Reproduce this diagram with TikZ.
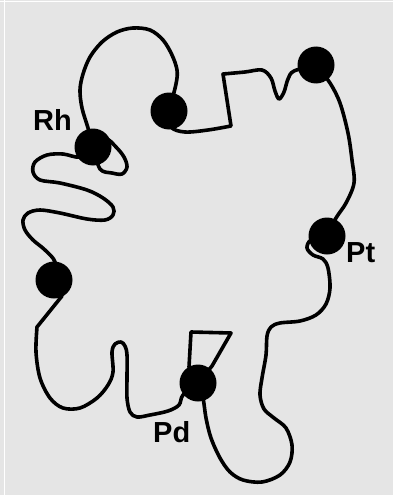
\documentclass[tikz,border=0pt]{standalone}
\usepackage{fontspec}
\setmainfont{Liberation Sans}
\usetikzlibrary{backgrounds}

\begin{document}
\begin{tikzpicture}[
  x=1pt, y=-1pt,
  dot/.style={circle, fill=black, inner sep=0pt, minimum size=37pt},
  wire/.style={draw=black, line width=3.6pt, line join=round, line cap=round},
  lbl/.style={font=\fontsize{29}{30}\selectfont\bfseries, inner sep=0pt},
  paper/.style={fill=black!10},
]
\def\wt{0.55}      % smoothness of the chain

\useasboundingbox (0,0) rectangle (393,495);

\node[dot] (rh)  at (93,147) {};
\node[dot] (top) at (169,111) {};
\node[dot] (tr)  at (316,65) {};
\node[dot] (pt)  at (327,236) {};
\node[dot] (pd)  at (198,383) {};
\node[dot] (lft) at (54,280) {};

\node[lbl, anchor=base west] (rhlab) at (33,130) {Rh};
\node[lbl, anchor=base west] (ptlab) at (346,262) {Pt};
\node[lbl, anchor=base west] (pdlab) at (153,442) {Pd};

\begin{scope}[on background layer]
  \fill[paper] (0,0) rectangle (393,495);
  \draw[white, line width=1.4pt] (0,1.8) -- (393,1.8);
  \draw[white, line width=1.6pt] (4.6,0) -- (4.6,495);

  % Rh -> top
  \draw[wire] plot[smooth, tension=\wt] coordinates {(rh.center) (88,128) (82,108) (80,90) (83,74) (90,57) (102,42) (117,32) (133,28) (150,30) (163,40) (172,55) (177,70) (176,84) (top.center)};
  % top -> tr
  \draw[wire] plot[smooth, tension=\wt] coordinates {(top.center) (171,127) (185,132) (208,130) (231,126)}
    -- plot[smooth, tension=\wt] coordinates {(223,74) (245,72) (262,70) (271,78) (275,91) (279,99) (284,92) (288,79) (294,71) (tr.center)};
  % tr -> Pt
  \draw[wire] plot[smooth, tension=\wt] coordinates {(tr.center) (330,83) (340,103) (348,133) (352,160) (354,183) (346,203) (336,218) (pt.center)};
  % Pt -> Pd
  \draw[wire] plot[smooth, tension=\wt] coordinates {(pt.center) (311,240) (307,248) (313,255) (323,259) (328,268) (330,288) (326,304) (316,315) (300,321) (280,323) (271,327) (267,336) (266,355) (262,378) (260,395) (264,409) (274,418) (286,428) (292,445) (290,462) (280,475) (262,482) (243,480) (230,472) (220,458) (211,438) (206,418) (203,398) (pd.center)};
  % Pd loop
  \draw[wire] (pd.center) -- (212,366) -- (231,333) -- (191,332) -- (189,367) -- (pd.center);
  % Pd -> left
  \draw[wire] plot[smooth, tension=\wt] coordinates {(pd.center) (183,395) (179,405) (168,411) (150,415) (137,417) (130,412) (127,398) (127,378) (127,355) (125,346) (121,342) (115,344) (112,352) (113,372) (108,385) (97,398) (80,408) (63,408) (50,398) (40,378) (36,352) (37,327)}
    -- (62,296) -- (lft.center);
  % left -> Rh
  \draw[wire] plot[smooth, tension=\wt] coordinates {(lft.center) (55,262) (45,250) (33,240) (25,230) (23,220) (28,213) (40,210) (60,213) (87,219) (105,220) (113,215) (113,207) (103,198) (87,190) (60,183) (40,180) (33,172) (35,162) (47,155) (63,154) (80,157) (rh.center)};
  % Rh loop
  \draw[wire] plot[smooth, tension=\wt] coordinates {(rh.center) (100,169) (112,173) (122,174) (127,167) (124,157) (116,147) (106,139) (rh.center)};
\end{scope}
\end{tikzpicture}
\end{document}
